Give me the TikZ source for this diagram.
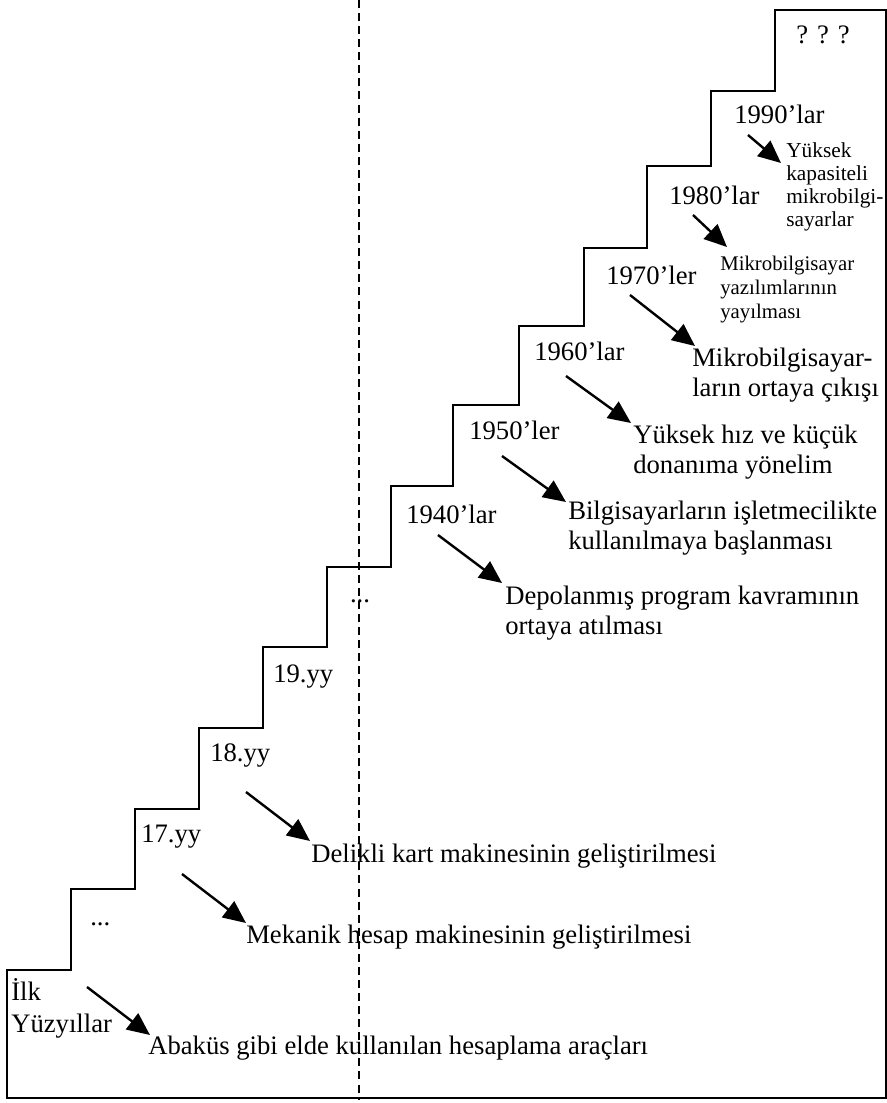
\documentclass[tikz,border=0pt]{standalone}
\usepackage{fontspec}
\setmainfont{Liberation Serif}
\usetikzlibrary{arrows.meta}

\begin{document}
\begin{tikzpicture}[x=0.75pt, y=-0.75pt,
  stair/.style={line width=1.5pt, line join=miter},
  divider/.style={line width=1.4pt, dash pattern=on 6pt off 3.8pt},
  evolve/.style={line width=1.8pt, -{Triangle[length=17pt, width=15pt]}},
  era/.style={inner sep=0pt, anchor=base west, font=\fontsize{20pt}{24pt}\selectfont},
  desc/.style={inner sep=0pt, anchor=base west, align=left, font=\fontsize{20pt}{22.5pt}\selectfont},
  smalldesc/.style={inner sep=0pt, anchor=base west, align=left, font=\fontsize{16pt}{17.2pt}\selectfont},
  midsdesc/.style={inner sep=0pt, anchor=base west, align=left, font=\fontsize{15.6pt}{17.8pt}\selectfont}]
\useasboundingbox (0,0) rectangle (887,1103);

% the staircase of eras, closed along the bottom and the right
\draw[stair] (7,1098) -- (7,970) -- (71,970) -- (71,889) -- (135,889) -- (135,809)
  -- (199,809) -- (199,728) -- (263,728) -- (263,647) -- (327,647) -- (327,567)
  -- (391,567) -- (391,486) -- (453,486) -- (453,405) -- (519,405) -- (519,326)
  -- (584,326) -- (584,248) -- (647,248) -- (647,166) -- (711,166) -- (711,91)
  -- (775,91) -- (775,10) -- (886,10) -- (886,1098) -- cycle;

% vertical dashed divider
\coordinate (dtop) at (359,0);
\coordinate (dbot) at (359,1100);
\draw[divider] (dtop) -- (dbot);

% era labels on the steps
\node[era, anchor=base] (q) at (823,43) {? ? ?};
\node[era] (l1990) at (734,123) {1990'lar};
\node[era] (l1980) at (669,204) {1980'lar};
\node[era] (l1970) at (606,284) {1970'ler};
\node[era] (l1960) at (534,360) {1960'lar};
\node[era] (l1950) at (469,439) {1950'ler};
\node[era] (l1940) at (406,523) {1940'lar};
\node[era, anchor=base] (gap) at (360,602) {...};
\node[era] (l19) at (273,682) {19.yy};
\node[era] (l18) at (210,761) {18.yy};
\node[era] (l17) at (141,842) {17.yy};
\node[era] (early) at (90,925) {...};
\node[era, align=left] (lfirst) at (11,1032) {İlk\\[-0.5pt]Yüzyıllar};

% developments of each era (anchored on the baseline of the last line)
\node[smalldesc] (d1990) at (786,226) {Yüksek\\kapasiteli\\mikrobilgi-\\sayarlar};
\node[midsdesc] (d1980) at (720,318) {Mikrobilgisayar\\yazılımlarının\\yayılması};
\node[desc] (d1970) at (692,396) {Mikrobilgisayar-\\ların ortaya çıkışı};
\node[desc] (d1960) at (633,473) {Yüksek hız ve küçük\\donanıma yönelim};
\node[desc] (d1950) at (568,549) {Bilgisayarların işletmecilikte\\kullanılmaya başlanması};
\node[desc] (d1940) at (505,634) {Depolanmış program kavramının\\ortaya atılması};
\node[desc] (d18) at (311,862) {Delikli kart makinesinin geliştirilmesi};
\node[desc] (d17) at (246,943) {Mekanik hesap makinesinin geliştirilmesi};
\node[desc] (dfirst) at (148,1054) {Abaküs gibi elde kullanılan hesaplama araçları};

% arrows from each era to its development
\coordinate (s1990) at (748,135);  \coordinate (e1990) at (781,163);
\coordinate (s1980) at (693,215);  \coordinate (e1980) at (727,247);
\coordinate (s1970) at (630,295);  \coordinate (e1970) at (695,346);
\coordinate (s1960) at (566,376);  \coordinate (e1960) at (631,423);
\coordinate (s1950) at (502,456);  \coordinate (e1950) at (566,502);
\coordinate (s1940) at (438,535);  \coordinate (e1940) at (502,583);
\coordinate (s18) at (246,792);    \coordinate (e18) at (310,841);
\coordinate (s17) at (182,874);    \coordinate (e17) at (246,923);
\coordinate (sfirst) at (87,987);  \coordinate (efirst) at (150,1035);
\foreach \e in {1990,1980,1970,1960,1950,1940,18,17,first}
  \draw[evolve] (s\e) -- (e\e);
\end{tikzpicture}
\end{document}
